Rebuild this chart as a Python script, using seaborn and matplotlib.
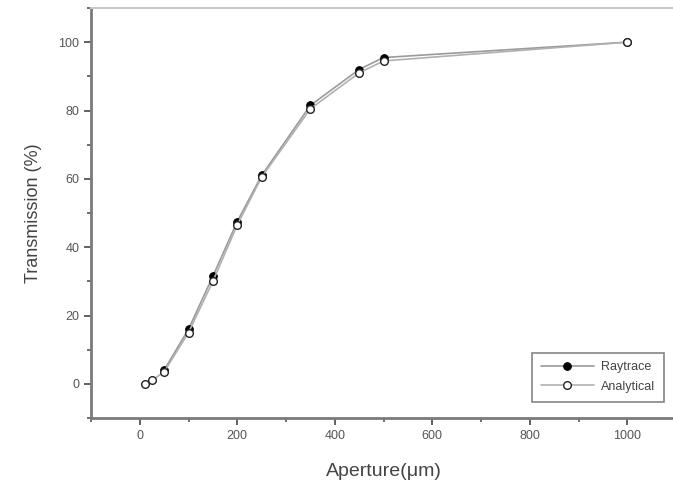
import matplotlib
matplotlib.use("Agg")
import matplotlib.pyplot as plt
import pandas as pd
import seaborn as sns
from matplotlib.ticker import MultipleLocator

# valores
aperture_ray = [50, 100, 150, 200, 250, 350, 450, 500, 1000]
trans_ray = [4.0, 16.0, 31.5, 47.5, 61.0, 81.5, 92.0, 95.5, 100.0]

aperture_ana = [10, 25, 50, 100, 150, 200, 250, 350, 450, 500, 1000]
trans_ana = [0.0, 1.0, 3.5, 15.0, 30.0, 46.5, 60.5, 80.5, 91.0, 94.5, 100.0]

sns.set_style("ticks")
plt.rcParams["font.family"] = ["Liberation Sans", "DejaVu Sans"]

fig = plt.figure(figsize=(6.73, 4.93), dpi=100)
ax = fig.add_axes([91 / 673, 75 / 493, 585 / 673, 410 / 493])

df_ray = pd.DataFrame({"x": aperture_ray, "y": trans_ray})
df_ana = pd.DataFrame({"x": aperture_ana, "y": trans_ana})

sns.lineplot(data=df_ray, x="x", y="y", ax=ax, color="#9a9a9a", linewidth=1.2,
             marker="o", markersize=5.5, markerfacecolor="black",
             markeredgecolor="black", label="Raytrace")
sns.lineplot(data=df_ana, x="x", y="y", ax=ax, color="#b0b0b0", linewidth=1.2,
             marker="o", markersize=5.5, markerfacecolor="white",
             markeredgecolor="#222", markeredgewidth=1.0, label="Analytical")

ax.set_xlim(-100, 1100)
ax.set_ylim(-10, 110)
ax.xaxis.set_major_locator(MultipleLocator(200))
ax.xaxis.set_minor_locator(MultipleLocator(100))
ax.yaxis.set_major_locator(MultipleLocator(20))
ax.yaxis.set_minor_locator(MultipleLocator(10))
ax.set_yticks([0, 20, 40, 60, 80, 100])

for side in ["left", "bottom"]:
    ax.spines[side].set_color("#7a7a7a")
    ax.spines[side].set_linewidth(2.0)
ax.spines["top"].set_color("#c8c8c8")
ax.spines["top"].set_linewidth(1.5)
ax.spines["right"].set_visible(False)

ax.tick_params(axis="both", which="major", direction="out", length=5, width=1.3,
               color="#555", labelsize=9, labelcolor="#555")
ax.tick_params(axis="both", which="minor", direction="out", length=3, width=1.2,
               color="#555")

ax.set_xlabel("Aperture(μm)", fontsize=14, color="#444", labelpad=15)
ax.set_ylabel("Transmission (%)", fontsize=13, color="#444", labelpad=12)

leg = ax.legend(loc="lower right", bbox_to_anchor=(0.99, 0.025), fontsize=9,
                frameon=True, fancybox=False, handlelength=4.2,
                borderpad=0.7, labelspacing=0.6, handletextpad=0.6)
leg.get_frame().set_edgecolor("#666")
leg.get_frame().set_linewidth(1.2)
for t in leg.get_texts():
    t.set_color("#444")

fig.savefig("out.png", dpi=100)
